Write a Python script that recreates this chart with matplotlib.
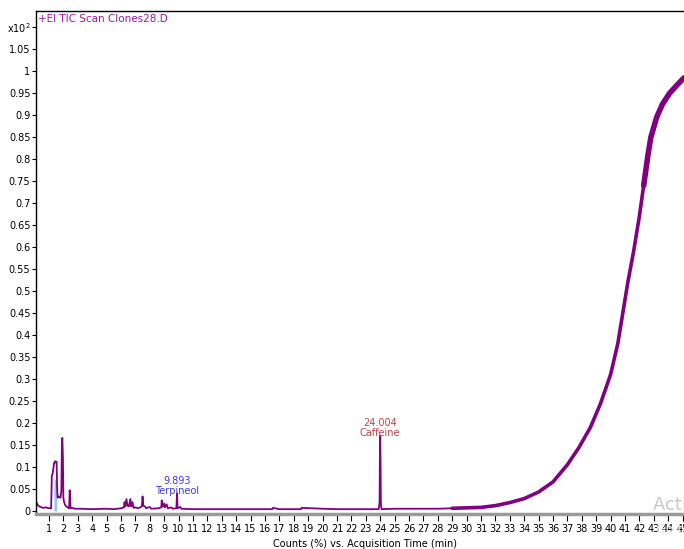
"""
GC-MS total ion chromatogram, +EI TIC Scan Clones28.D
"""

import numpy as np
import matplotlib
matplotlib.use('Agg')
import matplotlib.pyplot as plt

# retention time (min) and counts (x10^2 %)
time_min = [0.10, 0.15, 0.25, 0.40, 0.60, 0.80, 1.00, 1.15, 1.20, 1.25,
            1.30, 1.35, 1.42, 1.48, 1.53, 1.57, 1.60, 1.70, 1.80, 1.86,
            1.90, 1.93, 1.97, 2.00, 2.05, 2.15, 2.30, 2.40, 2.44, 2.47,
            2.50, 2.60, 2.80, 3.20, 4.00, 5.00, 5.50, 6.00, 6.20, 6.25,
            6.30, 6.38, 6.45, 6.55, 6.65, 6.72, 6.80, 6.88, 7.00, 7.20,
            7.45, 7.50, 7.55, 7.67, 7.75, 8.00, 8.10, 8.60, 8.80, 8.83,
            8.90, 8.99, 9.05, 9.17, 9.25, 9.50, 9.60, 9.85, 9.893, 9.93,
            10.10, 10.20, 11.0, 12.0, 13.0, 14.0, 15.0, 16.5, 16.55, 17.0,
            18.5, 18.55, 20.0, 21.0, 22.0, 23.0, 23.90, 23.96, 23.98, 24.004,
            24.03, 24.05, 24.10, 25.0, 26.0, 27.0, 28.0, 29.0, 30.0, 31.0,
            32.0, 33.0, 34.0, 35.0, 36.0, 37.0, 37.8, 38.6, 39.3, 40.0,
            40.5, 40.9, 41.2, 41.6, 42.0, 42.3, 42.6, 42.8, 43.2, 43.6,
            44.1, 44.6, 45.1]
counts = [0.022, 0.018, 0.012, 0.009, 0.007, 0.008, 0.006, 0.006, 0.080, 0.084,
          0.095, 0.108, 0.113, 0.110, 0.112, 0.050, 0.030, 0.033, 0.030, 0.045,
          0.160, 0.166, 0.120, 0.030, 0.020, 0.012, 0.008, 0.006, 0.047, 0.030,
          0.006, 0.007, 0.005, 0.005, 0.004, 0.005, 0.004, 0.006, 0.008, 0.020,
          0.010, 0.027, 0.012, 0.010, 0.027, 0.010, 0.020, 0.007, 0.008, 0.006,
          0.010, 0.033, 0.012, 0.010, 0.006, 0.009, 0.005, 0.006, 0.008, 0.024,
          0.010, 0.017, 0.008, 0.015, 0.006, 0.008, 0.005, 0.006, 0.040, 0.006,
          0.009, 0.005, 0.004, 0.004, 0.004, 0.004, 0.004, 0.004, 0.007, 0.004,
          0.004, 0.007, 0.005, 0.004, 0.004, 0.004, 0.004, 0.020, 0.120, 0.171,
          0.100, 0.015, 0.004, 0.005, 0.005, 0.005, 0.005, 0.006, 0.007, 0.008,
          0.012, 0.019, 0.028, 0.043, 0.066, 0.105, 0.144, 0.190, 0.244, 0.310,
          0.380, 0.460, 0.520, 0.590, 0.670, 0.740, 0.810, 0.850, 0.895, 0.925,
          0.950, 0.968, 0.985]

# integrated area under the first peak
area_t = [1.35, 1.42, 1.48, 1.53]
area_y = [0.075, 0.072, 0.070, 0.068]

peak_labels = [(9.893, 0.033, '9.893\nTerpineol', '#3b3bd6'),
               (24.004, 0.166, '24.004\nCaffeine', '#c8404e')]

x_ticks = list(range(1, 46))
y_ticks = [0.0, 0.05, 0.1, 0.15, 0.2, 0.25, 0.3, 0.35, 0.4, 0.45, 0.5, 0.55,
           0.6, 0.65, 0.7, 0.75, 0.8, 0.85, 0.9, 0.95, 1.0, 1.05, 1.1]
y_tick_labels = ['0', '0.05', '0.1', '0.15', '0.2', '0.25', '0.3', '0.35',
                 '0.4', '0.45', '0.5', '0.55', '0.6', '0.65', '0.7', '0.75',
                 '0.8', '0.85', '0.9', '0.95', '1', '1.05', r'x10$^2$']

# figure parameters (pixels of the 684x549 frame)
plot_width  = 6.84
plot_height = 5.49
ax_left     = 36
ax_top      = 11
ax_bottom   = 514
px_per_min  = 14.4
ftsize      = 7
trace_color = '#800080'

plt.rcParams['font.family'] = ['Liberation Sans Narrow', 'DejaVu Sans']
plt.rcParams['mathtext.default'] = 'regular'

fig = plt.figure(figsize=(plot_width, plot_height), dpi=100)
ax = fig.add_axes([ax_left/684, 1 - ax_bottom/549,
                   (684 - ax_left)/684, (ax_bottom - ax_top)/549])

t = np.array(time_min)
c = np.array(counts)

ax.fill_between(area_t, 0.0, area_y, color='#8ec8f0', lw=0, zorder=1)
ax.plot(t, c, color=trace_color, lw=1.3, zorder=2)
# noisy band on the rising baseline
m1 = (t >= 29.0) & (t <= 42.3)
ax.plot(t[m1], c[m1], color=trace_color, lw=2.6, zorder=2,
        solid_capstyle='round', solid_joinstyle='round')
m2 = t >= 42.3
ax.plot(t[m2], c[m2], color=trace_color, lw=4.0, zorder=2,
        solid_capstyle='round', solid_joinstyle='round')

for xp, yp, txt, col in peak_labels:
    ax.text(xp, yp, txt, color=col, fontsize=ftsize, ha='center',
            va='bottom', linespacing=1.0)

ax.text(0.003, 0.994, '+EI TIC Scan Clones28.D', color='#a01aa0',
        fontsize=7.5, ha='left', va='top', transform=ax.transAxes)

ax.set_xlim(0.1, 0.1 + (684 - ax_left) / px_per_min)
ax.set_ylim(-0.007, 1.137)

ax.set_xticks(x_ticks)
ax.set_xticklabels([str(v) for v in x_ticks])
ax.set_yticks(y_ticks)
ax.set_yticklabels(y_tick_labels)
ax.tick_params(axis='x', direction='out', length=5, width=0.8, pad=2,
               labelsize=ftsize)
ax.tick_params(axis='y', direction='out', length=3, width=0.8, pad=1,
               labelsize=ftsize)

ax.spines['right'].set_visible(False)
ax.spines['bottom'].set_color('#9a9a9a')
ax.spines['bottom'].set_linewidth(2.5)
ax.spines['left'].set_linewidth(1.0)
ax.spines['top'].set_linewidth(1.0)

ax.set_xlabel('Counts (%) vs. Acquisition Time (min)', fontsize=7,
              va='center')
ax.xaxis.set_label_coords((365 - ax_left) / 648, -(544 - ax_bottom) / 503)

# screen watermark
fig.text(653/684, 1 - 505/549, 'Activate Windows', color='#c8c8c8',
         fontsize=13, ha='left', va='center')
fig.text(656/684, 1 - 530/549, 'Go to Settings', color='#e4e4e4',
         fontsize=9, ha='left', va='center', zorder=0)

fig.savefig('out.png', dpi=100)
